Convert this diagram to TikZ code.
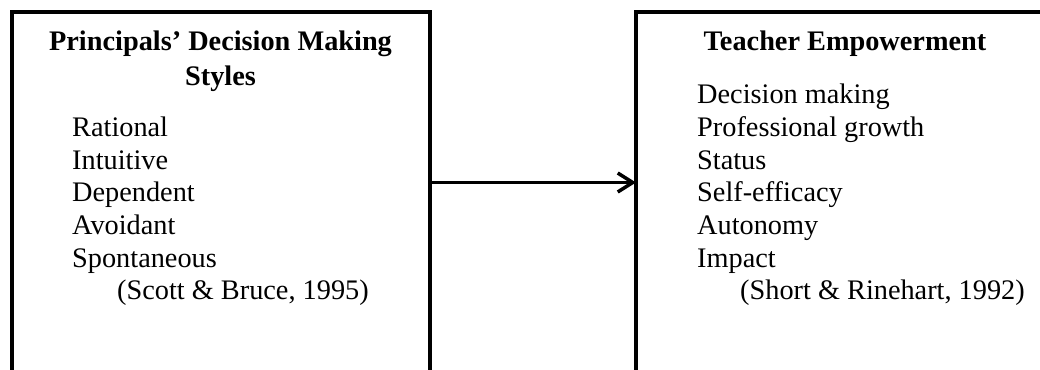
\documentclass[tikz,border=0pt]{standalone}
\usepackage{fontspec}
\setmainfont{Liberation Serif}
\usetikzlibrary{arrows.meta}
\begin{document}
\begin{tikzpicture}[x=1pt,y=-1pt,
  frame/.style={draw, line width=4pt, rectangle, inner sep=0pt, outer sep=0pt,
                minimum width=418pt, minimum height=420pt},
  txt/.style={anchor=base west, inner sep=0pt, font=\fontsize{28.3}{32.7}\selectfont},
  head/.style={anchor=base, inner sep=0pt, font=\fontsize{28.3}{32.7}\selectfont\bfseries},
  link/.style={line width=3.5pt, -{Straight Barb[length=15pt,width=19pt]}}]
\useasboundingbox (0,0) rectangle (1040,369);
\clip (0,0) rectangle (1040,369);

% the two frames (open below and, for the second one, to the right)
\node[frame] (lbox) at (220.5,222.5) {};
\node[frame] (rbox) at (845,222.5) {};

% headings
\node[head] (lhead1) at (220.5,50) {Principals’ Decision Making};
\node[head] (lhead2) at (220.5,85) {Styles};
\node[head] (rhead) at (845,50) {Teacher Empowerment};

% decision making styles
\foreach \t [count=\i from 0] in {Rational,Intuitive,Dependent,Avoidant,Spontaneous}
  \node[txt] (litem\i) at (72,136.3+32.7*\i) {\t};
\node[txt] (lcite) at (117,299.8) {(Scott \& Bruce, 1995)};

% empowerment dimensions
\foreach \t [count=\i from 0] in {Decision making,Professional growth,Status,Self-efficacy,Autonomy,Impact}
  \node[txt] (ritem\i) at (697,103.6+32.7*\i) {\t};
\node[txt] (rcite) at (740,299.8) {(Short \& Rinehart, 1992)};

% connector between the frames
\coordinate (mid) at (0,182.5);
\draw[link] (lbox.east |- mid) -- (rbox.west |- mid);
\end{tikzpicture}
\end{document}
